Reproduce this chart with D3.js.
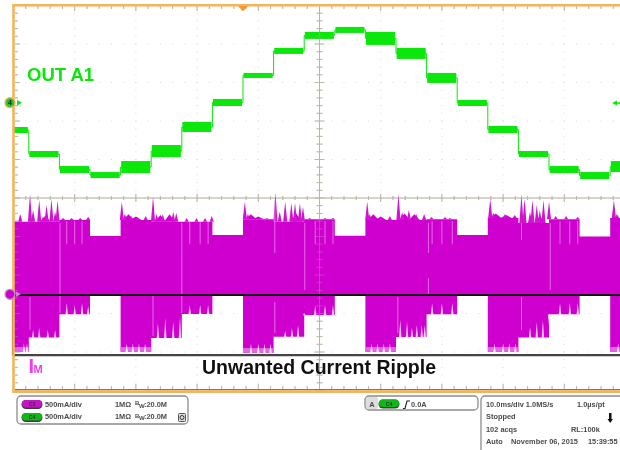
<!DOCTYPE html>
<html><head><meta charset="utf-8">
<style>html,body{margin:0;background:#fff}svg{display:block;filter:blur(.55px)}text{font-family:"Liberation Sans",Arial,sans-serif}</style>
<script src="https://cdn.jsdelivr.net/npm/d3@7"></script></head><body>
<script>
// time of each 5 ms output step edge (ms)
const stepEdges=[-50,-47.5,-42.5,-37.5,-32.5,-27.5,-22.5,-17.5,-12.5,-7.5,-2.5,2.5,7.5,12.5,17.5,22.5,27.5,32.5,37.5,42.5,47.5,50];
// OUT A1 (C4) noise band per step, mA
const outHigh=[-328,-640,-835,-913,-770,-562,-263,36,374,699,907,972,907,699,374,23,-315,-640,-835,-913,-770];
const outLow=[-406,-718,-926,-991,-926,-718,-393,-55,309,621,816,894,738,556,244,-55,-406,-718,-926,-1004,-913];
// I_M (C3) envelope per step, mA
const currentTop=[940,940,965,755,965,940,940,770,975,940,975,760,965,965,975,770,990,925,975,750,990];
const currentBottom=[-746,-562,-260,-16,-746,-568,-256,-16,-759,-551,-269,-16,-746,-555,-260,-16,-746,-562,-260,-16,-746];
// peaks on the upper envelope [ms, mA]
const topSpikes=[[-48.9,1043],[-47.3,1302],[-46.8,1094],[-45.8,1224],[-45.2,1003],[-44.6,1159],[-43.8,1237],[-43.2,1068],[-42.8,1215],
[-41.9,990],[-40.5,990],[-39.1,990],[-37.8,1007],[-32.3,1202],[-31.8,1043],[-30.8,1016],[-29.7,1003],[-28.4,1016],
[-27.2,1267],[-26.6,1043],[-25.6,1043],[-23.9,1072],[-23.4,1055],[-21.7,990],[-20.1,990],[-18.7,990],[-17.6,1016],
[-12.2,1202],[-11.7,1043],[-9.7,990],[-8.6,990],[-7.2,1319],[-6.5,1072],[-5.6,1202],[-4.6,1185],[-4,1185],[-3.2,1185],[-2.7,1137],
[-1.6,990],[.9,990],[2.2,990],[7.8,1202],[8.2,1043],[9.9,1003],[11.5,1016],[12.9,1302],[13.5,1068],[14.6,1094],[15.8,1043],[17.1,1043],
[18.3,1003],[20.5,1003],[21.3,990],[27.9,1237],[28.4,1055],[30.3,1043],[31.9,1029],[33,1302],[33.5,1237],[34.4,1068],[34.8,1224],[35.5,1159],[36,1094],[36.6,1224],[37.5,1202],
[38.6,1016],[40.3,1016],[42.2,1003],[48.1,1224],[48.6,1043]];
// broad shoulders just after the rising edges [ms, mA]
const shoulders=[[-31.2,1040],[-30,1010],[-26,1030],[-24.5,1040],[-11.2,1040],[-10,1010],[8.8,1040],[10,1010],[13.9,1050],[15.5,1040],[28.8,1050],[30.5,1030],[-44.8,1020],[-3.8,1050],[36,1020]];
// notches cut into the lower envelope [ms, mA]
const bottomNotches=[[-48.3,-640],[-47.8,-640],[-46.8,-464],[-45.8,-438],[-44.4,-464],[-43.2,-464],
[-41.3,-113],[-40,-140],[-38.8,-113],[-37.8,-152],[-31.5,-640],[-30.5,-640],[-29.5,-640],[-28.5,-640],
[-26.4,-373],[-25.2,-308],[-23.9,-360],[-22.8,-295],[-21.2,-140],[-19.5,-140],[-18.2,-140],
[-11.2,-640],[-10,-640],[-9,-640],[-8,-640],[-5.6,-477],[-4.5,-438],[-3.5,-399],[-2.5,-243],[-.7,-140],[.9,-140],[2.2,-140],
[8.5,-640],[9.5,-640],[10.5,-640],[11.5,-640],[13.2,-334],[14.3,-360],[15.1,-438],[15.9,-399],[16.7,-399],[17.2,-399],
[18.4,-113],[20,-113],[21.7,-113],[28.6,-640],[30,-640],[31,-640],[32,-640],[34.4,-425],[35.5,-360],[36.5,-334],[37.5,-399],
[39.3,-113],[40.9,-113],[42.2,-113],[48.8,-640]];
// pale vertical streaks inside the envelope [ms, from mA, to mA]
const paleStreaks=[[-42.4,925,-243],[-22.5,925,-243],[-47.3,-36,-464],[-27.2,-23,-542],[-7.3,1224,536],[-7.3,-100,-503],[-2.4,925,55],
[17.8,925,536],[17.8,211,-10],[37.7,925,55],[12.8,-36,-503],[33,925,705],[33,-36,-464],
[-41.3,950,650],[-40,950,650],[-38.8,950,650],[-21.2,950,650],[-19.5,950,650],[-18.2,950,650],[-.7,950,650],[.9,950,650],[2.2,950,650],
[18.4,950,650],[20,950,650],[21.7,950,650],[39.3,950,650],[40.9,950,650],[42.2,950,650]];
const channelRows=["500mA/div","500mA/div"];
const channelNames=["C3","C4"];

const W=620,H=450;
const x=d3.scaleLinear([-50,50],[13.5,625.5]);
const yCur=d3.scaleLinear([-1250,3750],[390.5,5.5]);
const yOut=d3.scaleLinear([-3750,1250],[390.5,5.5]);
const svg=d3.select("body").append("svg").attr("width",W).attr("height",H);
const MAG="#cf00cf",GRN="#0be60b",TAN="#bdb6a4";
const plot=svg.append("g");

// graticule dots
const dots=plot.append("g").attr("fill","#d6d6d6");
const vDiv=d3.range(-50,51,10), hDiv=d3.range(-1250,3751,500);
vDiv.forEach(t=>d3.range(-1250,3751,100).forEach(v=>dots.append("rect").attr("x",x(t)-.5).attr("y",yCur(v)-.5).attr("width",1).attr("height",1)));
hDiv.forEach(v=>d3.range(-50,51,2).forEach(t=>dots.append("rect").attr("x",x(t)-.5).attr("y",yCur(v)-.5).attr("width",1).attr("height",1)));

// graticule cross and edge ticks
const drawTicks=(g)=>{
 g.append("line").attr("x1",x(-50)).attr("x2",W).attr("y1",yCur(1250)).attr("y2",yCur(1250));
 g.append("line").attr("x1",x(0)).attr("x2",x(0)).attr("y1",5).attr("y2",390);
 const tickV=d3.range(-50,51,2), tickH=d3.range(-1250,3751,100);
 const isMajT=t=>t%10===0, isMajV=v=>(v+1250)%500===0;
 tickV.forEach(t=>{const l=isMajT(t)?5:3;
  [[yCur(1250)-l+1,yCur(1250)+l-1],[6,6+l],[389-l,389]].forEach(a=>g.append("line").attr("x1",x(t)).attr("x2",x(t)).attr("y1",a[0]).attr("y2",a[1]));});
 tickH.forEach(v=>{const l=isMajV(v)?5:3;
  [[x(0)-l,x(0)+l],[15,15+l]].forEach(a=>g.append("line").attr("x1",a[0]).attr("x2",a[1]).attr("y1",yCur(v)).attr("y2",yCur(v)));});
};
drawTicks(plot.append("g").attr("stroke",TAN).attr("fill","none"));

// current envelope
const steps=currentTop.map((_,i)=>i);
const area=d3.area().x(d=>x(stepEdges[d])).y0(d=>yCur(currentBottom[Math.min(d,20)])).y1(d=>yCur(currentTop[Math.min(d,20)])).curve(d3.curveStepAfter);
plot.append("path").datum([...steps,21]).attr("d",area).attr("fill",MAG);
const stepOf=t=>Math.max(0,d3.bisectRight(stepEdges,t)-1);
const tri=(t,base,tip,w,sc)=>`M${x(t-w)},${sc(base)}L${x(t)},${sc(tip)}L${x(t+w)},${sc(base)}Z`;
plot.append("g").selectAll("path").data(shoulders).join("path")
 .attr("d",d=>tri(d[0],currentTop[stepOf(d[0])],d[1],.9,yCur)).attr("fill",MAG);
plot.append("g").selectAll("path").data(topSpikes).join("path")
 .attr("d",d=>tri(d[0],currentTop[stepOf(d[0])],d[1],.34,yCur)).attr("fill","#d214d2");
// pale fringe under the deep steps
plot.append("g").selectAll("rect").data(steps.filter(i=>currentBottom[i]<-700)).join("rect")
 .attr("x",i=>x(stepEdges[i])).attr("width",i=>x(stepEdges[i+1])-x(stepEdges[i]))
 .attr("y",i=>yCur(currentBottom[i]+60)).attr("height",i=>yCur(currentBottom[i])-yCur(currentBottom[i]+60))
 .attr("fill","#e266e2");
plot.append("g").selectAll("path").data(bottomNotches).join("path")
 .attr("d",d=>tri(d[0],currentBottom[stepOf(d[0])]-4,d[1],.2,yCur)).attr("fill","#fff").attr("opacity",.8);
plot.append("g").selectAll("line").data(paleStreaks).join("line")
 .attr("x1",d=>x(d[0])).attr("x2",d=>x(d[0])).attr("y1",d=>yCur(d[1])).attr("y2",d=>yCur(d[2]))
 .attr("stroke","#f0a8f0").attr("stroke-width",.9).attr("opacity",.7);

// output staircase
const mids=d3.range(21);
plot.append("path").datum([...mids,21]).attr("d",d3.line().x(d=>x(stepEdges[d]))
 .y(d=>yOut((outHigh[Math.min(d,20)]+outLow[Math.min(d,20)])/2)).curve(d3.curveStepAfter))
 .attr("fill","none").attr("stroke",GRN).attr("stroke-width",1);
plot.append("g").selectAll("rect").data(mids).join("rect")
 .attr("x",i=>x(stepEdges[i]+(i?0.1:0))).attr("width",i=>x(stepEdges[i+1]-.15)-x(stepEdges[i]+(i?0.1:0)))
 .attr("y",i=>yOut(outHigh[i])).attr("height",i=>yOut(outLow[i])-yOut(outHigh[i])).attr("fill",GRN);

// faint ticks showing through the traces
drawTicks(svg.append("g").attr("stroke",TAN).attr("fill","none").attr("opacity",.35));

// annotation box
const box=svg.append("g").attr("fill","none");
box.append("line").attr("x1",x(-50)-1).attr("x2",W).attr("y1",yCur(-10)).attr("y2",yCur(-10)).attr("stroke","#111").attr("stroke-width",2);
box.append("line").attr("x1",x(-50)-1).attr("x2",W).attr("y1",yCur(-790)).attr("y2",yCur(-790)).attr("stroke","#444").attr("stroke-width",2.4);
box.append("line").attr("x1",12.7).attr("x2",12.7).attr("y1",yCur(-10)).attr("y2",yCur(-790)).attr("stroke","#333").attr("stroke-width",1.6);

// frame
svg.append("line").attr("x1",15).attr("x2",W).attr("y1",389.6).attr("y2",389.6).attr("stroke","#777").attr("stroke-width",1.2);
const fr=svg.append("g").attr("stroke","#f6b35a").attr("fill","none");
fr.append("path").attr("d",`M${W},5.2H13.5V391.6H${W}`).attr("stroke-width",2.6);
svg.append("path").attr("d","M238,6H248L243,11.5Z").attr("fill","#f29a2e");

// markers
svg.append("path").attr("d","M612,103L617,100.5V102.3H620V103.7H617V105.5Z").attr("fill",GRN);
svg.append("path").attr("d","M22,102.7L17,100V105.4Z").attr("fill",GRN);
svg.append("circle").attr("cx",10).attr("cy",102.7).attr("r",5).attr("fill","#29c629").attr("stroke","#f6b35a").attr("stroke-width",1.3);
svg.append("text").attr("x",10).attr("y",105.2).attr("text-anchor","middle").attr("font-size",7).attr("font-weight",700).attr("fill","#124").text("4");
svg.append("path").attr("d","M21,294.3L16,291.5V297Z").attr("fill","#d77ad7");
svg.append("circle").attr("cx",10).attr("cy",294.3).attr("r",5).attr("fill",MAG).attr("stroke","#b79ab7").attr("stroke-width",1.3);

// captions
const T=(px,py,s,txt,o={})=>svg.append("text").attr("x",px).attr("y",py).attr("font-size",s).attr("font-weight",o.w||700).attr("fill",o.c||"#4a4a4a").attr("text-anchor",o.a||"start").text(txt);
T(27,81.3,18.5,"OUT A1",{c:"#0be60b"});
T(28.5,373,20,"I",{c:"#ee3cee"});
T(33.5,373.3,11,"M",{c:"#ee3cee"});
T(202,374,19.5,"Unwanted Current Ripple",{c:"#111"});

// readout panels
const P=dd=>svg.append("path").attr("d",dd).attr("fill","#fff").attr("stroke","#8c8c8c").attr("stroke-width",1.3);
P("M21,396H184a4,4 0 0 1 4,4V420a4,4 0 0 1 -4,4H21a4,4 0 0 1 -4,-4V400a4,4 0 0 1 4,-4Z");
P("M369,396H474a4,4 0 0 1 4,4V406a4,4 0 0 1 -4,4H369a4,4 0 0 1 -4,-4V400a4,4 0 0 1 4,-4Z");
P("M481,452V400a4,4 0 0 1 4,-4H622");
const pill=(cx,cy,col,lab)=>{svg.append("rect").attr("x",cx-10.5).attr("y",cy-4.5).attr("width",21).attr("height",9).attr("rx",4.5).attr("fill","#3c3c3c");
 svg.append("rect").attr("x",cx-10).attr("y",cy-4.5).attr("width",20).attr("height",7.4).attr("rx",3.7).attr("fill",col);
 T(cx,cy+1.6,5,lab,{a:"middle",c:"#333"});};
pill(32,404.5,"#c414c4",channelNames[0]);pill(32,417.5,"#10b818",channelNames[1]);
const S=7.4;
channelRows.forEach((r,i)=>{const yy=406.8+i*12.6;
 T(45,yy,S,r);T(115,yy,S,"1MΩ");T(135,yy-1.5,6,"B");T(139,yy+1,6,"W");T(144,yy,S,":20.0M");});
svg.append("rect").attr("x",178.5).attr("y",413.5).attr("width",7).attr("height",8).attr("rx",1).attr("fill","#ddd").attr("stroke","#555");
svg.append("circle").attr("cx",182).attr("cy",417.5).attr("r",2).attr("fill","none").attr("stroke","#333");
svg.append("rect").attr("x",366).attr("y",397).attr("width",12).attr("height",12).attr("rx",2).attr("fill","#ddd");
T(372,406.5,S,"A",{a:"middle"});
pill(389,404,"#10b818","C4");
svg.append("path").attr("d","M403,408.5H405L407,401H410").attr("fill","none").attr("stroke","#222").attr("stroke-width",1.1);
T(411,406.5,S,"0.0A");
T(486,406.5,S,"10.0ms/div 1.0MS/s");T(577,406.5,S,"1.0µs/pt");
T(486,419,S,"Stopped");
svg.append("path").attr("d","M609,413H611.5V419H613L610.2,423L607.5,419H609Z").attr("fill","#111");
T(486,431.5,S,"102 acqs");T(571,431.5,S,"RL:100k");
T(486,444,S,"Auto");T(511,444,S,"November 06, 2015");T(588,444,S,"15:39:55");
</script></body></html>
